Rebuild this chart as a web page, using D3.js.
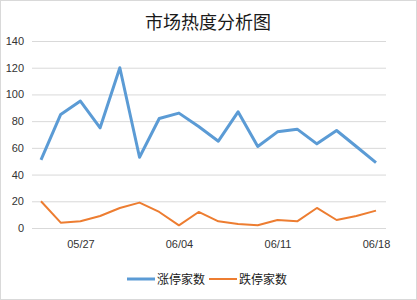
<!DOCTYPE html>
<html>
<head>
<meta charset="utf-8">
<script src="https://cdn.jsdelivr.net/npm/d3@7"></script>
<style>
  html, body { margin: 0; padding: 0; background: #fff; }
  svg { display: block; font-family: "Noto Sans CJK SC", "Noto Sans", sans-serif; }
</style>
</head>
<body>
<script>
const dates = ["05/23", "05/24", "05/27", "05/28", "05/29", "05/30", "05/31", "06/04", "06/05",
  "06/06", "06/07", "06/10", "06/11", "06/12", "06/13", "06/14", "06/17", "06/18"];
const limitUp = [51, 85, 95, 75, 120, 53, 82, 86, 76, 65, 87, 61, 72, 74, 63, 73, 61, 49];
const limitDown = [20, 4, 5, 9, 15, 19, 12, 2, 12, 5, 3, 2, 6, 5, 15, 6, 9, 13];
const yTicks = [0, 20, 40, 60, 80, 100, 120, 140];
const seriesNames = ["涨停家数", "跌停家数"];
const colors = ["#5b9bd5", "#ed7d31"];

const width = 417, height = 300;
const svg = d3.select("body").append("svg")
  .attr("width", width)
  .attr("height", height);

svg.append("rect")
  .attr("x", 0.5).attr("y", 0.5)
  .attr("width", width - 1).attr("height", height - 1)
  .attr("fill", "#fff").attr("stroke", "#d9d9d9");

svg.append("text")
  .attr("x", 208).attr("y", 29)
  .attr("text-anchor", "middle")
  .attr("font-size", 18)
  .attr("fill", "#1a1a1a")
  .text("市场热度分析图");

const plotLeft = 32, plotRight = 386, plotTop = 41, plotBottom = 228;

const x = d3.scalePoint().domain(dates).range([41, 376]);
const y = d3.scaleLinear().domain([0, 140]).range([plotBottom, plotTop]);

// gridlines + y labels
svg.append("g")
  .attr("transform", `translate(${plotLeft},0)`)
  .call(d3.axisLeft(y).tickValues(yTicks).tickSize(-(plotRight - plotLeft)).tickPadding(8))
  .call(g => g.select(".domain").remove())
  .call(g => g.selectAll("line").attr("stroke", "#d9d9d9"))
  .call(g => g.selectAll("text").attr("font-size", 11).attr("fill", "#333"));

// x labels
svg.append("g")
  .attr("transform", `translate(0,${plotBottom})`)
  .call(d3.axisBottom(x).tickValues(dates.filter((d, i) => i % 5 === 2)).tickSize(0).tickPadding(12))
  .call(g => g.select(".domain").remove())
  .call(g => g.selectAll("text").attr("font-size", 11).attr("fill", "#333"));

const line = d3.line()
  .x((d, i) => x(dates[i]))
  .y(d => y(d));

svg.append("path")
  .datum(limitDown)
  .attr("fill", "none")
  .attr("stroke", colors[1])
  .attr("stroke-width", 2)
  .attr("stroke-linejoin", "round")
  .attr("d", line);

svg.append("path")
  .datum(limitUp)
  .attr("fill", "none")
  .attr("stroke", colors[0])
  .attr("stroke-width", 3)
  .attr("stroke-linejoin", "round")
  .attr("d", line);

// legend
const legend = svg.append("g").attr("transform", "translate(127,279)");
seriesNames.forEach((name, i) => {
  const g = legend.append("g").attr("transform", `translate(${i * 82},0)`);
  g.append("line")
    .attr("x1", 0).attr("x2", 28)
    .attr("stroke", colors[i])
    .attr("stroke-width", i === 0 ? 3 : 2);
  g.append("text")
    .attr("x", 30).attr("y", 4.5)
    .attr("font-size", 12)
    .attr("fill", "#1a1a1a")
    .text(name);
});
</script>
</body>
</html>
